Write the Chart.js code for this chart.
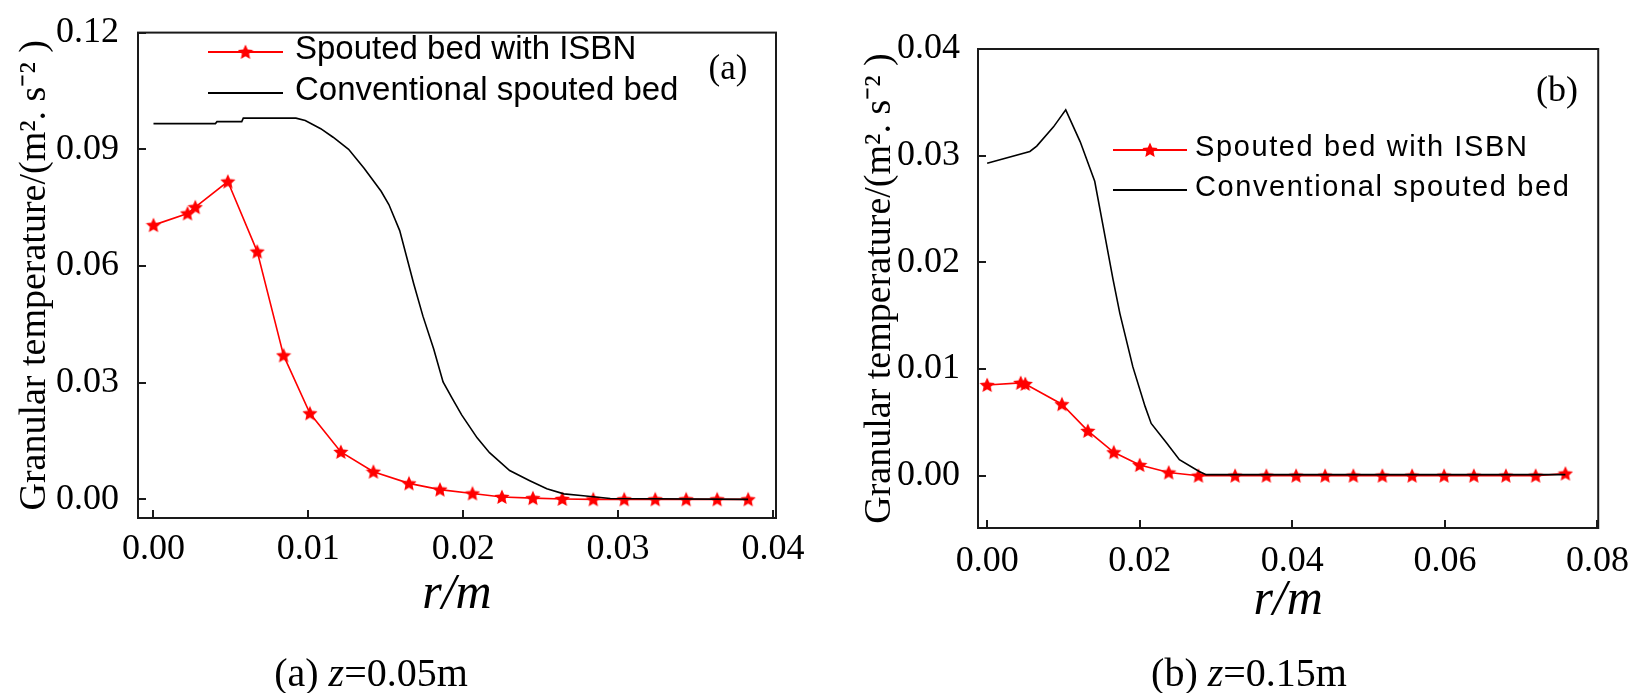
<!DOCTYPE html>
<html>
<head>
<meta charset="utf-8">
<script src="https://cdn.jsdelivr.net/npm/chart.js@4.4.0/dist/chart.umd.min.js"></script>
<style>
  body { margin: 0; background: #fff; }
  #page { position: relative; width: 1633px; height: 693px; overflow: hidden; background: #fff; }
  canvas { position: absolute; top: 0; }
  #chartA { left: 0; }
  #chartB { left: 830px; }
  .caption { position: absolute; font-family: "Liberation Serif", serif; font-size: 40px; line-height: 40px; white-space: nowrap; transform: translateX(-50%); color: #000; }
</style>
</head>
<body>
<div id="page">
  <canvas id="chartA" width="830" height="693"></canvas>
  <canvas id="chartB" width="803" height="693"></canvas>
  <div class="caption" style="left:371px; top:653px">(a) <i>z</i>=0.05m</div>
  <div class="caption" style="left:1249px; top:653px">(b) <i>z</i>=0.15m</div>
</div>
<script>
// series names
const seriesLabels = ['Spouted bed with ISBN', 'Conventional spouted bed'];

// (a) z = 0.05 m
const rA_isbn = [0, 0.0022, 0.0027, 0.0048, 0.0067, 0.0084, 0.0101, 0.0121, 0.0142, 0.0165, 0.0185, 0.0206, 0.0225, 0.0245, 0.0264, 0.0284, 0.0304, 0.0324, 0.0344, 0.0364, 0.0384];
const tA_isbn = [0.0705, 0.0735, 0.0751, 0.0817, 0.0637, 0.0370, 0.0221, 0.0122, 0.0071, 0.0041, 0.0025, 0.0015, 0.0006, 0.0003, 0.0001, 0, 0, 0, 0, 0, 0];
const rA_conv = [0, 0.0040, 0.0041, 0.0057, 0.0058, 0.0092, 0.0098, 0.0108, 0.0116, 0.0126, 0.0136, 0.0147, 0.0152, 0.0159, 0.0168, 0.0174, 0.0181, 0.0187, 0.0193, 0.0199, 0.0209, 0.0217, 0.0230, 0.0243, 0.0254, 0.0265, 0.0276, 0.0295, 0.0384];
const tA_conv = [0.0966, 0.0966, 0.0971, 0.0971, 0.0980, 0.0980, 0.0974, 0.0953, 0.0931, 0.0900, 0.0851, 0.0792, 0.0758, 0.0691, 0.0555, 0.0471, 0.0386, 0.0302, 0.0259, 0.0217, 0.0158, 0.0120, 0.0074, 0.0048, 0.0027, 0.0014, 0.0010, 0.0002, 0];

// (b) z = 0.15 m
const rB_isbn = [0, 0.0044, 0.0050, 0.0098, 0.0132, 0.0166, 0.0200, 0.0238, 0.0277, 0.0325, 0.0366, 0.0405, 0.0443, 0.0480, 0.0518, 0.0557, 0.0599, 0.0638, 0.0680, 0.0719, 0.0758];
const tB_isbn = [0.0085, 0.0087, 0.0086, 0.0067, 0.0042, 0.0022, 0.0010, 0.0003, 0, 0, 0, 0, 0, 0, 0, 0, 0, 0, 0, 0, 0.0002];
const rB_conv = [0, 0.0056, 0.0065, 0.0087, 0.0103, 0.0122, 0.0141, 0.0152, 0.0165, 0.0174, 0.0191, 0.0207, 0.0215, 0.0235, 0.0252, 0.0278, 0.0287, 0.0758];
const tB_conv = [0.0293, 0.0304, 0.0309, 0.0327, 0.0343, 0.0313, 0.0276, 0.0234, 0.0184, 0.0152, 0.0102, 0.0065, 0.0049, 0.0031, 0.0015, 0.0004, 0.0001, 0.0001];

// axis ticks
const xTicksA = [0, 0.01, 0.02, 0.03, 0.04];
const yTicksA = [0, 0.03, 0.06, 0.09, 0.12];
const xTicksB = [0, 0.02, 0.04, 0.06, 0.08];
const yTicksB = [0, 0.01, 0.02, 0.03, 0.04];

const xTitle = 'r/m';
const yTitle = 'Granular temperature/(m². s⁻² )';

function toPoints(xs, ys) {
    return xs.map((x, i) => ({ x: x, y: ys[i] }));
}

// filled five point star used as the marker
function makeStar(size, color) {
    const c = document.createElement('canvas');
    c.width = size;
    c.height = size;
    const g = c.getContext('2d');
    const R = size / 2, r = R * 0.47;
    g.beginPath();
    for (let i = 0; i < 10; i++) {
        const rad = i % 2 === 0 ? R : r;
        const a = -Math.PI / 2 + i * Math.PI / 5;
        g.lineTo(R + rad * Math.cos(a), R + rad * Math.sin(a) + 0.5);
    }
    g.closePath();
    g.fillStyle = color;
    g.fill();
    return c;
}
const star = makeStar(16, '#ff0000');

// frame, inward ticks, legend inside the plot and the panel letter
const panelDecor = {
    id: 'panelDecor',
    afterDraw(chart, args, o) {
        const { ctx, chartArea: a, scales } = chart;
        ctx.save();
        ctx.strokeStyle = '#1a1a1a';
        ctx.lineWidth = 2;
        ctx.strokeRect(a.left, a.top, a.right - a.left, a.bottom - a.top);

        ctx.beginPath();
        scales.x.ticks.forEach(t => {
            const px = Math.round(scales.x.getPixelForValue(t.value));
            ctx.moveTo(px, a.bottom);
            ctx.lineTo(px, a.bottom - 8);
        });
        scales.y.ticks.forEach(t => {
            const py = Math.round(scales.y.getPixelForValue(t.value));
            ctx.moveTo(a.left, py);
            ctx.lineTo(a.left + 8, py);
        });
        ctx.stroke();

        // legend
        ctx.font = o.font;
        ctx.letterSpacing = o.spacing;
        ctx.textBaseline = 'middle';
        ctx.textAlign = 'left';
        chart.data.datasets.forEach((ds, i) => {
            const y = o.y + i * o.dy;
            ctx.strokeStyle = ds.borderColor;
            ctx.lineWidth = 2;
            ctx.beginPath();
            ctx.moveTo(o.x, y);
            ctx.lineTo(o.x + o.len, y);
            ctx.stroke();
            if (ds.pointRadius > 0) {
                ctx.drawImage(star, o.x + o.len / 2 - star.width / 2, y - star.height / 2);
            }
            ctx.fillStyle = '#000';
            ctx.fillText(ds.label, o.textX, y - 2);
        });

        ctx.letterSpacing = '0px';
        ctx.font = o.tagFont;
        ctx.textAlign = 'center';
        ctx.fillText(o.tag, o.tagX, o.tagY);
        ctx.restore();
    }
};

const tickFont = { family: '"Liberation Serif", serif', size: 36 };

function drawPanel(id, p) {
    return new Chart(document.getElementById(id), {
        type: 'line',
        data: {
            datasets: [
                {
                    label: seriesLabels[0],
                    data: toPoints(p.isbnR, p.isbnT),
                    borderColor: '#ff0000',
                    borderWidth: 1.6,
                    pointStyle: star,
                    pointRadius: 7,
                    order: 1
                },
                {
                    label: seriesLabels[1],
                    data: toPoints(p.convR, p.convT),
                    borderColor: '#000000',
                    borderWidth: 1.6,
                    pointRadius: 0,
                    order: 0
                }
            ]
        },
        options: {
            responsive: false,
            animation: false,
            events: [],
            layout: { padding: p.pad },
            plugins: {
                legend: { display: false },
                tooltip: { enabled: false },
                panelDecor: p.decor
            },
            scales: {
                x: {
                    type: 'linear',
                    min: p.xMin,
                    max: p.xMax,
                    afterBuildTicks: s => { s.ticks = p.xTicks.map(v => ({ value: v })); },
                    afterFit: s => { s.height = p.xAxisH; },
                    grid: { display: false },
                    border: { display: false },
                    ticks: { padding: p.xTickPad, font: tickFont, color: '#000', maxRotation: 0, autoSkip: false,
                             callback: v => v.toFixed(2) },
                    title: { display: true, text: xTitle, color: '#000',
                             font: { family: '"Liberation Serif", serif', size: 50, style: 'italic' },
                             padding: { top: 0, bottom: p.xTitlePad } }
                },
                y: {
                    type: 'linear',
                    min: p.yMin,
                    max: p.yMax,
                    afterBuildTicks: s => { s.ticks = p.yTicks.map(v => ({ value: v })); },
                    afterFit: s => { s.width = p.yAxisW; },
                    grid: { display: false },
                    border: { display: false },
                    ticks: { padding: p.yTickPad, font: tickFont, color: '#000', autoSkip: false,
                             callback: v => v.toFixed(2) },
                    title: { display: true, text: yTitle, color: '#000',
                             font: { family: '"Liberation Serif", serif', size: 38 },
                             padding: { top: p.yTitlePad, bottom: 0 } }
                }
            }
        },
        plugins: [panelDecor]
    });
}

drawPanel('chartA', {
    isbnR: rA_isbn, isbnT: tA_isbn, convR: rA_conv, convT: tA_conv,
    xTicks: xTicksA, yTicks: yTicksA,
    xMin: -0.001, xMax: 0.0402, yMin: -0.0048, yMax: 0.12,
    pad: { top: 28, right: 54, bottom: 0, left: 0 },
    xAxisH: 175, yAxisW: 138,
    xTickPad: 2, yTickPad: 11, xTitlePad: 68, yTitlePad: 12,
    decor: { x: 208, y: 52, dy: 41, len: 75, textX: 295,
             font: '33px "Liberation Sans"', spacing: '0px',
             tag: '(a)', tagX: 728, tagY: 70, tagFont: '35px "Liberation Serif"' }
});

drawPanel('chartB', {
    isbnR: rB_isbn, isbnT: tB_isbn, convR: rB_conv, convT: tB_conv,
    xTicks: xTicksB, yTicks: yTicksB,
    xMin: -0.0012, xMax: 0.0801, yMin: -0.0049, yMax: 0.04,
    pad: { top: 49, right: 33, bottom: 0, left: 0 },
    xAxisH: 165, yAxisW: 148,
    xTickPad: 4, yTickPad: 10, xTitlePad: 62, yTitlePad: 27,
    decor: { x: 283, y: 150, dy: 40, len: 74, textX: 365,
             font: '29px "Liberation Sans"', spacing: '1.6px',
             tag: '(b)', tagX: 727, tagY: 92, tagFont: '36px "Liberation Serif"' }
});
</script>
</body>
</html>
